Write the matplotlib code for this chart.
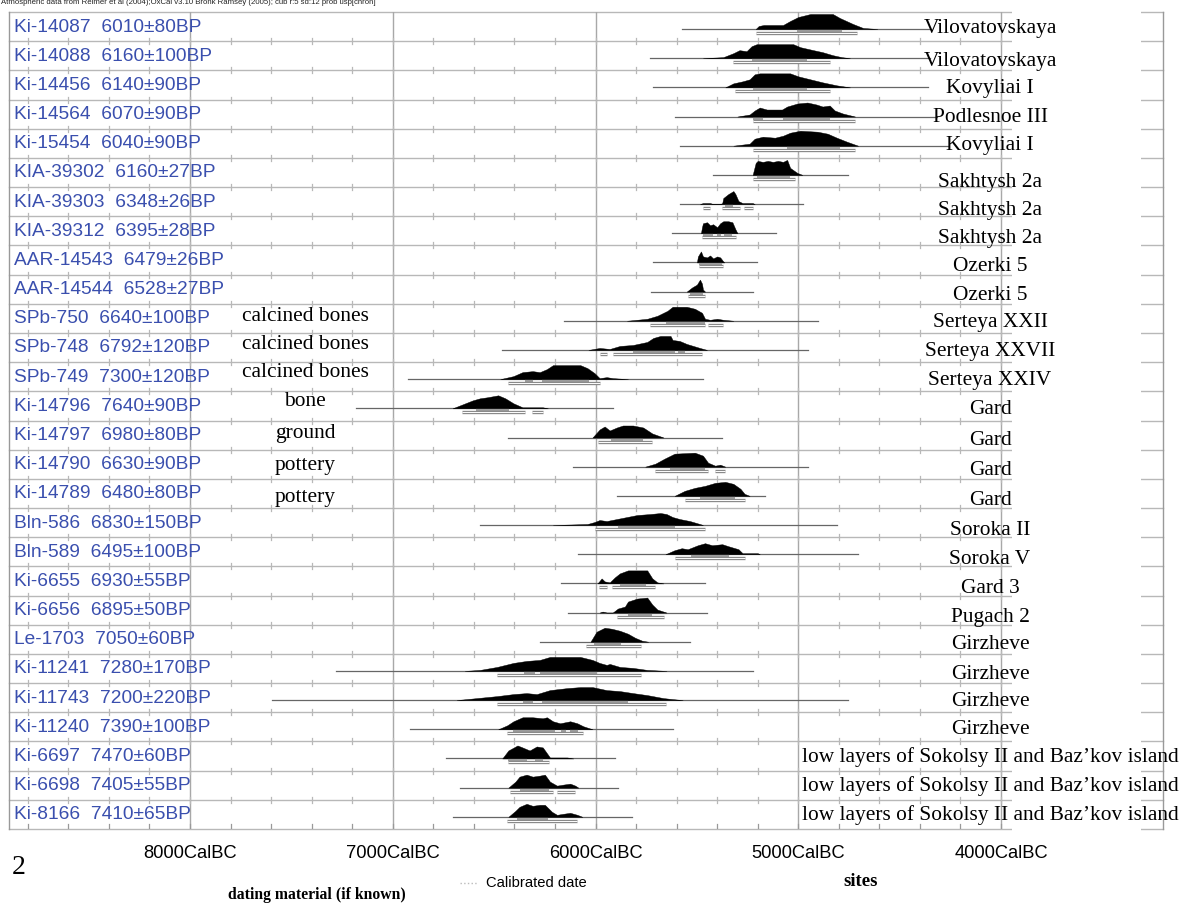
import numpy as np
import matplotlib as mpl
mpl.use('Agg')
import matplotlib.pyplot as plt
from matplotlib.patches import Rectangle

# lab code / uncalibrated date per row (top to bottom)
codes = ["Ki-14087", "Ki-14088", "Ki-14456", "Ki-14564", "Ki-15454", "KIA-39302", "KIA-39303",
         "KIA-39312", "AAR-14543", "AAR-14544", "SPb-750", "SPb-748", "SPb-749", "Ki-14796",
         "Ki-14797", "Ki-14790", "Ki-14789", "Bln-586", "Bln-589", "Ki-6655", "Ki-6656",
         "Le-1703", "Ki-11241", "Ki-11743", "Ki-11240", "Ki-6697", "Ki-6698", "Ki-8166"]
dates = ["6010±80BP", "6160±100BP", "6140±90BP", "6070±90BP", "6040±90BP", "6160±27BP",
         "6348±26BP", "6395±28BP", "6479±26BP", "6528±27BP", "6640±100BP", "6792±120BP",
         "7300±120BP", "7640±90BP", "6980±80BP", "6630±90BP", "6480±80BP", "6830±150BP",
         "6495±100BP", "6930±55BP", "6895±50BP", "7050±60BP", "7280±170BP", "7200±220BP",
         "7390±100BP", "7470±60BP", "7405±55BP", "7410±65BP"]
materials = {10: "calcined bones", 11: "calcined bones", 12: "calcined bones", 13: "bone",
             14: "ground", 15: "pottery", 16: "pottery"}
sites = ["Vilovatovskaya", "Vilovatovskaya", "Kovyliai I", "Podlesnoe III", "Kovyliai I",
         "Sakhtysh 2a", "Sakhtysh 2a", "Sakhtysh 2a", "Ozerki 5", "Ozerki 5", "Serteya XXII",
         "Serteya XXVII", "Serteya XXIV", "Gard", "Gard", "Gard", "Gard", "Soroka II", "Soroka V",
         "Gard 3", "Pugach 2", "Girzheve", "Girzheve", "Girzheve", "Girzheve",
         "low layers of Sokolsy II and Baz\u2019kov island",
         "low layers of Sokolsy II and Baz\u2019kov island",
         "low layers of Sokolsy II and Baz\u2019kov island"]

# thin line extent for each row (cal BC)
line_spans = [(5575, 4350), (5730, 4350), (5715, 4360), (5610, 4315), (5585, 4260),
              (5420, 4755), (5585, 4975), (5625, 5110), (5715, 5205), (5725, 5225),
              (6155, 4905), (6460, 4950), (6925, 5470), (7180, 5915), (6430, 5375),
              (6110, 4950), (5895, 5165), (6570, 4810), (6085, 4705), (6170, 5460),
              (6135, 5450), (6275, 5535), (7280, 5225), (7595, 4755), (6915, 5620),
              (6740, 5905), (6670, 5890), (6705, 5820)]

# probability profiles: years (cal BC) and heights (0-15 scale)
prof_years = [
    [5210, 5195, 5170, 5075, 5040, 5000, 4940, 4830, 4795, 4730, 4680, 4610],
    [5470, 5370, 5320, 5290, 5255, 5230, 5205, 5025, 4990, 4925, 4880, 4830, 4785, 4745],
    [5360, 5320, 5275, 5240, 5215, 5190, 5040, 5000, 4940, 4880, 4810, 4745],
    [5300, 5240, 5215, 5190, 5155, 5080, 5055, 5005, 4955, 4910, 4880, 4845, 4820, 4780, 4720],
    [5320, 5240, 5215, 5175, 5115, 5075, 5040, 4990, 4905, 4855, 4810, 4760, 4705],
    [5225, 5210, 5200, 5175, 5150, 5125, 5100, 5075, 5055, 5040, 5005, 4980],
    [5485, 5470, 5435, 5420, 5385, 5375, 5370, 5345, 5320, 5310, 5295, 5275, 5270, 5225, 5215],
    [5480, 5475, 5470, 5450, 5435, 5420, 5400, 5385, 5370, 5345, 5325, 5310, 5300],
    [5500, 5495, 5480, 5470, 5450, 5435, 5420, 5400, 5385, 5370, 5365],
    [5550, 5525, 5500, 5485, 5475, 5470, 5460],
    [5845, 5745, 5695, 5645, 5620, 5550, 5510, 5475, 5460, 5435, 5400, 5370, 5320],
    [6035, 5980, 5930, 5880, 5815, 5745, 5715, 5680, 5630, 5620, 5585, 5550, 5485, 5450],
    [6470, 6405, 6360, 6310, 6275, 6240, 6210, 6075, 6040, 6005, 5980, 5945, 5915, 5840],
    [6705, 6655, 6605, 6570, 6535, 6480, 6445, 6405, 6360, 6315, 6260, 6235],
    [6015, 5980, 5955, 5930, 5895, 5865, 5815, 5765, 5720, 5665],
    [5755, 5705, 5660, 5610, 5510, 5470, 5445, 5410, 5385, 5360],
    [5610, 5560, 5510, 5460, 5410, 5360, 5320, 5285, 5265, 5240],
    [6210, 6040, 6005, 5980, 5945, 5895, 5845, 5795, 5730, 5680, 5650, 5620, 5585, 5535, 5485, 5470],
    [5655, 5610, 5575, 5545, 5495, 5460, 5425, 5375, 5345, 5295, 5275, 5200, 5190],
    [5990, 5970, 5955, 5930, 5905, 5880, 5840, 5745, 5720, 5695, 5665],
    [5980, 5965, 5945, 5915, 5890, 5855, 5840, 5795, 5745, 5720, 5695, 5650],
    [6025, 5995, 5955, 5920, 5880, 5840, 5805, 5770, 5740],
    [6645, 6570, 6485, 6405, 6340, 6275, 6225, 6075, 6015, 5980, 5945, 5930, 5880, 5815, 5745, 5650],
    [6685, 6585, 6485, 6405, 6340, 6290, 6225, 6140, 6075, 6015, 5945, 5880, 5815, 5745, 5665, 5620, 5570],
    [6480, 6435, 6405, 6360, 6310, 6260, 6240, 6210, 6175, 6125, 6090, 6060, 6015],
    [6460, 6430, 6385, 6360, 6325, 6290, 6260, 6225, 6200, 6140, 6110],
    [6430, 6395, 6375, 6340, 6310, 6275, 6250, 6225, 6190, 6160, 6125, 6100, 6085],
    [6430, 6395, 6375, 6340, 6310, 6275, 6250, 6215, 6190, 6160, 6125, 6090, 6065],
]
prof_h = [
    [0, 3, 4, 4, 8, 12, 15, 15, 11, 5, 1, 0],
    [0, 1, 5, 8, 7, 12, 14, 14, 11, 8, 6, 3, 1, 0],
    [0, 4, 6, 8, 13, 14, 14, 11, 8, 5, 2, 0],
    [0, 2, 6, 9, 7, 7, 10, 13, 14, 12, 10, 11, 6, 3, 0],
    [0, 2, 7, 9, 8, 10, 13, 15, 14, 12, 8, 4, 0],
    [0, 12, 14, 13, 14, 13, 14, 13, 15, 7, 2, 0],
    [0, 1, 1, 0, 0, 1, 6, 10, 13, 10, 3, 1, 1, 1, 0],
    [0, 6, 10, 11, 8, 9, 6, 10, 12, 12, 11, 4, 0],
    [0, 6, 11, 6, 5, 7, 4, 6, 5, 1, 0],
    [0, 4, 7, 12, 8, 2, 0],
    [0, 2, 5, 10, 14, 14, 12, 8, 2, 1, 2, 1, 0],
    [0, 2, 1, 4, 5, 8, 12, 14, 14, 10, 9, 6, 2, 0],
    [0, 3, 7, 8, 7, 10, 14, 14, 11, 6, 1, 2, 1, 0],
    [0, 4, 8, 10, 11, 13, 10, 5, 1, 1, 1, 0],
    [0, 8, 11, 7, 10, 12, 12, 10, 4, 0],
    [0, 3, 8, 13, 14, 11, 4, 1, 2, 0],
    [0, 5, 8, 10, 13, 14, 12, 7, 2, 0],
    [0, 1, 3, 5, 4, 6, 8, 10, 11, 12, 11, 8, 6, 4, 1, 0],
    [0, 4, 6, 5, 9, 11, 9, 10, 8, 5, 1, 1, 0],
    [0, 5, 2, 1, 6, 10, 13, 13, 5, 1, 0],
    [0, 1, 0, 0, 4, 6, 11, 14, 15, 8, 3, 0],
    [0, 10, 14, 13, 11, 8, 4, 1, 0],
    [0, 1, 4, 8, 10, 11, 14, 14, 11, 8, 6, 7, 4, 3, 1, 0],
    [0, 2, 4, 6, 7, 6, 10, 12, 13, 13, 10, 9, 7, 5, 2, 1, 0],
    [0, 4, 8, 12, 12, 11, 12, 8, 6, 8, 6, 3, 0],
    [0, 8, 13, 11, 8, 12, 11, 1, 1, 1, 0],
    [0, 6, 11, 13, 11, 12, 13, 6, 2, 3, 4, 2, 0],
    [0, 6, 10, 13, 11, 12, 12, 5, 2, 3, 4, 2, 0],
]

# 68.2% and 95.4% ranges (cal BC)
r68 = [[(5005, 4785)], [(5230, 4955)], [(5225, 4955)], [(5225, 5175), (5075, 4845)],
       [(5055, 4795)], [(5205, 5040)], [(5360, 5320)], [(5470, 5420), (5400, 5380), (5365, 5325)],
       [(5490, 5375)], [(5535, 5470)], [(5650, 5460)], [(5815, 5610), (5595, 5560)],
       [(6350, 6310), (6265, 6030)], [(6590, 6425)], [(5925, 5765)], [(5635, 5460)],
       [(5485, 5310)], [(5890, 5610)], [(5530, 5340)], [(5880, 5750)], [(5840, 5720)],
       [(6010, 5875)], [(6355, 6300), (6275, 5995)], [(6360, 6310), (6265, 5840)],
       [(6405, 6200), (6170, 6145), (6125, 6085)], [(6430, 6340), (6300, 6260)],
       [(6375, 6230)], [(6385, 6235)]]
r95 = [[(5210, 4710)], [(5320, 4845)], [(5310, 4845)], [(5225, 4720)], [(5225, 4720)],
       [(5225, 5015)], [(5470, 5435), (5375, 5285), (5270, 5225)], [(5475, 5305)],
       [(5490, 5370)], [(5545, 5460)], [(5730, 5460), (5445, 5370)],
       [(5980, 5945), (5915, 5475)], [(6430, 5980)], [(6660, 6350), (6315, 6260)],
       [(5990, 5720)], [(5705, 5445), (5410, 5360)], [(5560, 5265)], [(6005, 5460)],
       [(5610, 5265)], [(5985, 5945), (5920, 5705)], [(5895, 5660)], [(6045, 5775)],
       [(6485, 5775)], [(6485, 5650)], [(6435, 6060)], [(6430, 6230)],
       [(6420, 6210), (6190, 6100)], [(6435, 6090)]]

axis_years = [8000, 7000, 6000, 5000, 4000]

# vertical nudges of the site labels (pixels), they are not exactly on the rows
site_dy = [1, 5, 3, 2, 1, 9, 8, 7, 5, 5, 3, 3, 3, 3, 4, 5, 6, 7, 7, 7, 6, 4, 5, 3, 2, 0, 0, 0]
mat_dy = {10: -3, 11: -4, 12: -5, 13: -5, 14: -3, 15: 0, 16: 3}

W, H = 1179, 904
fig = plt.figure(figsize=(W / 100, H / 100), dpi=100)
# plot frame: x 9..1163 px, y 13..830 px
ax = fig.add_axes([9 / W, (H - 830) / H, 1154 / W, 817 / H])
nrows = len(codes)
ax.set_xlim(8893, 3201)
ax.set_ylim(nrows, 0)
for s in ax.spines.values():
    s.set_visible(False)
ax.set_yticks([])
ax.set_xticks(axis_years, ["%dCalBC" % y for y in axis_years])
ax.tick_params(axis='x', length=0, pad=11, labelsize=13.2, labelcolor='black')
for lab in ax.get_xticklabels():
    lab.set_fontfamily('Liberation Sans')

px = nrows / 817.0  # row units per pixel

grid_c = '#b8b8b8'
# row separators + frame
for k in range(nrows + 1):
    ax.plot([8893, 3201], [k, k], color=grid_c, lw=1.0, zorder=1, clip_on=False)
ax.plot([8893, 8893], [0, nrows], color='#999999', lw=1.0, zorder=1, clip_on=False)
ax.plot([3201, 3201], [0, nrows], color='#999999', lw=1.0, zorder=1, clip_on=False)
for y in axis_years:
    ax.plot([y, y], [0, nrows], color='#a8a8a8', lw=1.0, zorder=1)
# small ticks every 200 years
for t in range(8800, 3300, -200):
    for k in range(1, nrows):
        ax.plot([t, t], [k - 3 * px, k + 3 * px], color=grid_c, lw=0.9, zorder=1)
    ax.plot([t, t], [nrows, nrows - 5 * px], color='#999999', lw=0.9, zorder=1)

hscale = px  # heights are read in pixels
for i in range(nrows):
    base = i + 17 * px
    a, b = line_spans[i]
    ax.plot([a, b], [base, base], color='#666666', lw=0.9, zorder=2)
    yrs = np.array(prof_years[i])
    hh = np.array(prof_h[i]) * hscale
    ax.fill_between(yrs, base, base - hh, color='black', lw=0.3, zorder=3)
    for a, b in r68[i]:
        ax.plot([a, b], [base + 2 * px] * 2, color='#9c9c9c', lw=1.6,
                solid_capstyle='butt', zorder=3)
    for a, b in r95[i]:
        ax.plot([a, b], [base + 4 * px] * 2, color='#8a8a8a', lw=2.4,
                solid_capstyle='butt', zorder=3)
        ax.plot([a, b], [base + 4 * px] * 2, color='white', lw=0.7,
                solid_capstyle='butt', zorder=3)

# white strip behind the site names (3946..3310 cal BC)
ax.add_patch(Rectangle((3310, -2 * px), 3946 - 3310, nrows + 4 * px, facecolor='white',
                       edgecolor='none', zorder=4, clip_on=False))

blue = '#3a4fae'
for i in range(nrows):
    ax.text(8868, i + 0.48, codes[i] + "  " + dates[i], color=blue, fontsize=13.8,
            family='Liberation Sans', va='center', ha='left', zorder=5)
    ax.text(4054, i + 0.5 + site_dy[i] * px, sites[i], color='black', fontsize=15.4,
            family='Liberation Serif', va='center', ha='center', zorder=5)
for i, m in materials.items():
    ax.text(7433, i + 0.5 + mat_dy[i] * px, m, color='black', fontsize=15.4,
            family='Liberation Serif', va='center', ha='center', zorder=5)

# texts outside the frame
fig.text(1 / W, 1 - 3 / H, "Atmospheric data from Reimer et al (2004);OxCal v3.10 Bronk Ramsey (2005); "
         "cub r:5 sd:12 prob usp[chron]", fontsize=5.6, family='Liberation Sans',
         color='#222222', va='center', ha='left')
fig.text(12 / W, 1 - 868 / H, "2", fontsize=20, family='Liberation Serif', va='center', ha='left')
fig.text(317 / W, 1 - 895 / H, "dating material (if known)", fontsize=11.3, weight='bold',
         family='Liberation Serif', va='center', ha='center')
fig.text(486 / W, 1 - 883 / H, "Calibrated date", fontsize=10.6, family='Liberation Sans',
         va='center', ha='left')
fig.add_artist(plt.Line2D([460 / W, 478 / W], [1 - 884 / H] * 2, color='#bbbbbb', lw=1,
                          ls=':'))
fig.text(861 / W, 1 - 882 / H, "sites", fontsize=13.5, weight='bold',
         family='Liberation Serif', va='center', ha='center')

fig.savefig('out.png', dpi=100)
plt.close(fig)
